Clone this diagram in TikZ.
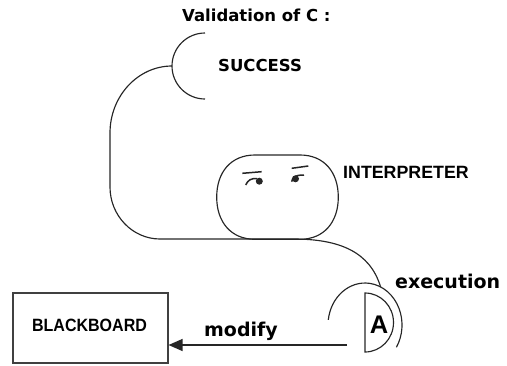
\documentclass[tikz,border=0pt]{standalone}
\usepackage{fontspec}
\newfontfamily\verdfont{DejaVu Sans}
\newfontfamily\arialfont{Liberation Sans}
\usetikzlibrary{arrows.meta}
\begin{document}
\begin{tikzpicture}[x=1pt,y=1pt,
  wire/.style={draw=black!85, line width=1.15pt},
  verdlabel/.style={inner sep=0pt, anchor=base west, font=\verdfont\bfseries\fontsize{16.5}{18}\selectfont},
  biglabel/.style={inner sep=0pt, anchor=base west, font=\verdfont\bfseries\fontsize{19}{21}\selectfont},
  arlabel/.style={inner sep=0pt, font=\arialfont\bfseries\fontsize{17.8}{20}\selectfont},
  boardbox/.style={draw=black!75, line width=1.1pt, minimum width=155pt, minimum height=70pt, inner sep=0pt}]
\useasboundingbox (0,0) rectangle (507,-365);

% titles and labels
\node[verdlabel] (title) at (182,-21) {Validation of C :};
\node[verdlabel] (success) at (218,-71) {SUCCESS};
\node[arlabel, anchor=base west] (interp) at (343,-178.3) {INTERPRETER};
\node[biglabel] (exec) at (395,-288.3) {execution};
\node[biglabel] (modify) at (204,-336.5) {modify};

% blackboard
\node[boardbox] (board) at (90.5,-328) {};
\node[arlabel, anchor=base] (boardtxt) at (89.5,-331) {\scalebox{0.9}[1]{BLACKBOARD}};

% success socket
\draw[wire] (205,-33) arc[start angle=90, end angle=270, radius=33];
\coordinate (succ) at (172,-66);

% interpreter head: a rounded squircle
\draw[wire] (255,-155) -- (300,-155)
  .. controls (324,-155) and (338.3,-172) .. (338.3,-197.2)
  .. controls (338.3,-222) and (324,-239.3) .. (300,-239.3)
  -- (255,-239.3)
  .. controls (231,-239.3) and (216.7,-222) .. (216.7,-197.2)
  .. controls (216.7,-172) and (231,-155) .. cycle;
% eyebrows
\draw[wire, line width=1.5pt] (242.3,-173.3) -- (261.7,-171.7);
\draw[wire, line width=1.5pt] (291.7,-168.3) -- (308.3,-166);
% eyes
\draw[wire, line width=1.5pt] (245.7,-185) .. controls (248,-180) and (251,-178.3) .. (257,-178.5);
\fill[black!85] (259.3,-181.2) circle[radius=3.5];
\draw[wire, line width=1.5pt] (291.7,-181.7) .. controls (292.5,-177) and (295,-175) .. (304,-175);
\fill[black!85] (295.5,-178.8) circle[radius=3.5];

% agent A with its socket
\draw[wire] (365,-293) arc[start angle=90, end angle=-90, x radius=28.5, y radius=29.5] -- cycle;
\node[arlabel, font=\arialfont\bfseries\fontsize{25.5}{27}\selectfont, anchor=base] (A) at (379,-333.3) {A};
\draw[wire] (328.3,-319.9) arc[start angle=173, end angle=-32, x radius=37, y radius=42];
\coordinate (asock) at (380.6,-286.9);
\coordinate (modstart) at (347,-345);

% the line from SUCCESS round under the head to A
\draw[wire] (succ) .. controls (138,-66) and (110,-96) .. (110,-133)
  -- (110,-187) .. controls (110,-215.6) and (132.5,-239) .. (160,-239)
  -- (293,-239) .. controls (340,-239) and (370,-252) .. (asock);

% modify arrow
\draw[wire, -{Triangle[length=14pt, width=12pt]}] (modstart) -- (modstart -| board.east);
\end{tikzpicture}
\end{document}
